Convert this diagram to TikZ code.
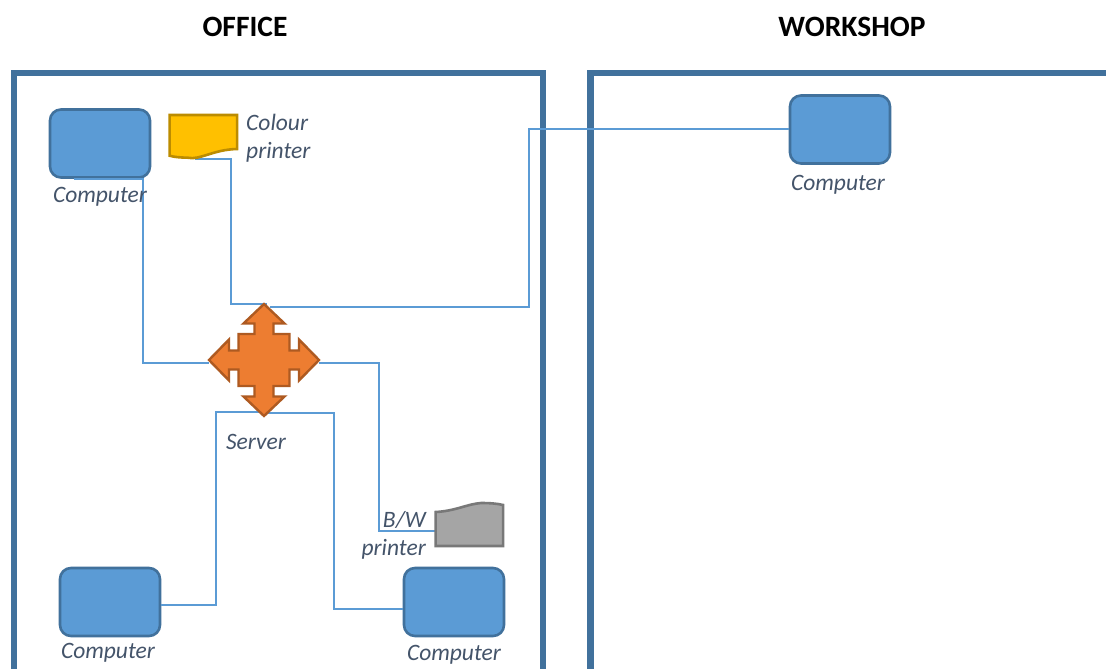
\documentclass[tikz,border=0pt]{standalone}
\usepackage{fontspec}
\setmainfont{Carlito}
\usetikzlibrary{calc}
\definecolor{frameblue}{HTML}{41719C}
\definecolor{compblue}{HTML}{5B9BD5}
\definecolor{labelgrey}{HTML}{44546A}
\definecolor{servor}{HTML}{ED7D31}
\definecolor{servline}{HTML}{AE5A21}
\definecolor{yellowp}{HTML}{FFC000}
\definecolor{yellowl}{HTML}{BC8C00}
\definecolor{greyp}{HTML}{A5A5A5}
\definecolor{greyl}{HTML}{787878}
\tikzset{
  frame/.style={draw=frameblue,line width=6.5pt,fill=none},
  computer/.style={draw=frameblue,fill=compblue,line width=2.6pt,rounded corners=11pt,minimum width=100pt,minimum height=68pt,inner sep=0pt},
  anchorbox/.style={inner sep=0pt,outer sep=0pt},
  link/.style={draw=compblue,line width=2pt},
  lab/.style={text=labelgrey,font=\fontsize{23.5}{28}\selectfont\itshape,inner sep=0pt,align=left},
  head/.style={font=\fontsize{29.5}{34}\selectfont\bfseries,text=black,inner sep=0pt},
}
\begin{document}
\begin{tikzpicture}[x=1pt,y=-1pt]
\useasboundingbox (0,0) rectangle (1106,669);
\clip (0,0) rectangle (1106,669);
\fill[white] (0,0) rectangle (1106,669);
\node[head] (office) at (245,27) {OFFICE};
\node[head] (workshop) at (852,27) {WORKSHOP};
\draw[frame] (14,690) -- (14,73) -- (543,73) -- (543,690);
\draw[frame] (590.5,690) -- (590.5,73) -- (1130,73);
% named shapes
\node[computer] (c1) at (100,143.5) {};
\node[computer] (c2) at (840,129.5) {};
\node[computer] (c3) at (110,602) {};
\node[computer] (c4) at (454,602) {};
\node[anchorbox,minimum width=67.5pt,minimum height=42pt] (cp) at (203.4,136) {};
\node[anchorbox,minimum width=67.5pt,minimum height=43pt] (bw) at (469.4,524.5) {};
\node[anchorbox,minimum width=110pt,minimum height=112pt] (server) at (264,360) {};
% connectors
\draw[link] ($(c1.south)+(-26,0)$) -- ($(c1.south)+(43,0)$) |- ($(server.west)+(0,3)$);
\draw[link] ($(cp.south)+(-8,2)$) -- ++(36,0) |- ($(server.north)+(3,0)$);
\draw[link] ($(server.north)+(6,3)$) -| ($(c2.west)+(-260,-0.5)$) -- ($(c2.west)+(0,-0.5)$);
\draw[link] ($(server.east)+(0,3)$) -| ($(bw.west)+(-57,6.5)$) -- ($(bw.west)+(0,6.5)$);
\draw[link] ($(c3.east)+(0,3)$) -- ++(55,0) |- ($(server.south)+(0,-4)$);
\draw[link] ($(server.south)+(0,-3)$) -| ($(c4.west)+(-69,7)$) -- ($(c4.west)+(0,7)$);
% printers
\draw[draw=yellowl,fill=yellowp,line width=2.6pt]
  (cp.north west) -- (cp.north east) -- ($(cp.north east)+(0,34)$)
  .. controls ($(cp.north east)+(-24,0.5)+(0,34)$) and ($(cp.south west)+(30,3.5)$) .. ($(cp.south west)+(18,0.7)$)
  .. controls ($(cp.south west)+(10,0.5)$) and ($(cp.south west)+(4,0)$) .. ($(cp.south west)+(0,-1.3)$) -- cycle;
\draw[draw=greyl,fill=greyp,line width=2.6pt]
  (bw.south west) -- (bw.south east) -- ($(bw.north east)+(0,2)$)
  .. controls ($(bw.north east)+(-6,0.5)$) and ($(bw.north east)+(-14,0)$) .. ($(bw.north east)+(-22,0)$)
  .. controls ($(bw.north east)+(-36,1)$) and ($(bw.north west)+(20,8)$) .. ($(bw.north west)+(0,9)$) -- cycle;
% server
\draw[draw=servline,fill=servor,line width=2.4pt,line join=miter,miter limit=3,shift={(server.center)}]
  (0,-56) -- (20.5,-36.5) -- (9.5,-36.5) -- (9.5,-26) -- (25.5,-26) -- (25.5,-9.5) -- (35,-9.5) -- (35,-20.5) -- (55,0)
  -- (35,20.5) -- (35,9.5) -- (25.5,9.5) -- (25.5,26) -- (9.5,26) -- (9.5,36.5) -- (20.5,36.5) -- (0,56)
  -- (-20.5,36.5) -- (-9.5,36.5) -- (-9.5,26) -- (-25.5,26) -- (-25.5,9.5) -- (-35,9.5) -- (-35,20.5) -- (-55,0)
  -- (-35,-20.5) -- (-35,-9.5) -- (-25.5,-9.5) -- (-25.5,-26) -- (-9.5,-26) -- (-9.5,-36.5) -- (-20.5,-36.5) -- cycle;
% labels
\node[lab] (lc1) at (100,197) {Computer};
\node[lab] (lc2) at (838,185) {Computer};
\node[lab] (lc3) at (108,653) {Computer};
\node[lab] (lc4) at (454,655) {Computer};
\node[lab,anchor=west] (lcp) at (246,138) {Colour\\printer};
\node[lab,anchor=east,align=right] (lbw) at (426,535) {B/W\\printer};
\node[lab] (ls) at (256,442) {Server};
\end{tikzpicture}
\end{document}
